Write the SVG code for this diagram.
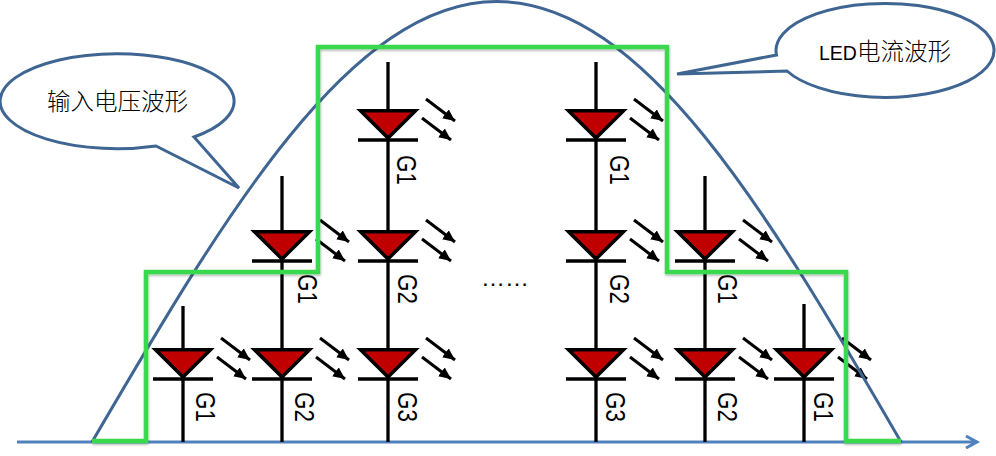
<svg xmlns="http://www.w3.org/2000/svg" width="996" height="456" viewBox="0 0 996 456">
<style>
text{fill:#000}
.w{stroke:#000;stroke-width:3.300;fill:none}
.d{fill:#c00000;stroke:#000;stroke-width:3.500}
.a{stroke:#000;stroke-width:3;fill:none;marker-end:url(#ah)}
.g{font:28px "Liberation Sans",Arial,sans-serif}
.b{fill:#fff;stroke:#3f6592;stroke-width:3}
.c{font:23.500px "Noto Sans CJK SC",sans-serif;font-weight:300}
.l{font:19.500px "Liberation Sans",sans-serif}
</style>
<defs>
<marker id="ah" markerUnits="userSpaceOnUse" markerWidth="14" markerHeight="12" refX="12" refY="5.500" orient="auto"><path d="M0 0L12 5.500L0 11z" fill="#000"/></marker>
<filter id="sh" x="-5%" y="-5%" width="110%" height="110%"><feDropShadow dx="0.500" dy="1.500" stdDeviation="1" flood-color="#000" flood-opacity=".3"/></filter>
<g id="led"><path class="d" d="M-27.500 349.700H27.500L0 377z"/><path class="w" d="M-30 379H30"/></g>
<g id="arr"><path class="a" d="M38 338L67 360"/><path class="a" d="M34 357L63 379"/></g>
</defs>
<rect width="996" height="456" fill="#fff"/>
<g id="connectors">
<path d="M17 442H976M966 436L977 442L966 448" fill="none" stroke="#4f81bd" stroke-width="3"/>
<path class="w" d="M183 306V442M282 176V442M388 62V442M596 62V442M705 176V442M804 304V442"/>
</g>
<g id="col-183"><use href="#led" x="183"/><use href="#arr" x="183"/><text class="g" transform="translate(196 392) rotate(90) scale(.8 1)">G1</text></g>
<g id="col-282">
<use href="#led" x="282"/><use href="#arr" x="282"/><text class="g" transform="translate(295 392) rotate(90) scale(.8 1)">G2</text>
<use href="#led" x="282" y="-118"/><use href="#arr" x="282" y="-118"/><text class="g" transform="translate(298 274) rotate(90) scale(.8 1)">G1</text></g>
<g id="col-388">
<use href="#led" x="388"/><use href="#arr" x="388"/><text class="g" transform="translate(398 392) rotate(90) scale(.8 1)">G3</text>
<use href="#led" x="388" y="-118"/><use href="#arr" x="388" y="-118"/><text class="g" transform="translate(398 274) rotate(90) scale(.8 1)">G2</text>
<use href="#led" x="388" y="-239"/><use href="#arr" x="388" y="-239"/><text class="g" transform="translate(397 155) rotate(90) scale(.8 1)">G1</text></g>
<g id="col-596">
<use href="#led" x="596"/><use href="#arr" x="596"/><text class="g" transform="translate(606 392) rotate(90) scale(.8 1)">G3</text>
<use href="#led" x="596" y="-118"/><use href="#arr" x="596" y="-118"/><text class="g" transform="translate(610 274) rotate(90) scale(.8 1)">G2</text>
<use href="#led" x="596" y="-239"/><use href="#arr" x="596" y="-239"/><text class="g" transform="translate(610 155) rotate(90) scale(.8 1)">G1</text></g>
<g id="col-705">
<use href="#led" x="705"/><use href="#arr" x="705"/><text class="g" transform="translate(718 392) rotate(90) scale(.8 1)">G2</text>
<use href="#led" x="705" y="-118"/><use href="#arr" x="705" y="-118"/><text class="g" transform="translate(718 274) rotate(90) scale(.8 1)">G1</text></g>
<g id="col-804"><use href="#led" x="804"/><use href="#arr" x="804"/><text class="g" transform="translate(814 392) rotate(90) scale(.8 1)">G1</text></g>
<text id="dots" x="481" y="286" font-family="Liberation Sans,sans-serif" font-size="24">……</text>
<g id="input-wave"><path d="M92 442C224 216 350 1.500 497 1.500C644 1.500 770 216 901 442" fill="none" stroke="#3f6592" stroke-width="3"/></g>
<g id="led-wave"><path d="M92 441H146V272H318V47H667V272H846V441H901" fill="none" stroke="#38d94e" stroke-width="4.500" filter="url(#sh)"/></g>
<g id="bubble-input"><path class="b" d="M156 146A117 47.500 0 1 1 194 137L239 188z"/><text class="c" x="47" y="110">输入电压波形</text></g>
<g id="bubble-led"><path class="b" d="M776.500 55A109 47 0 1 1 787 71L677 74z"/><text x="819" y="60"><tspan class="l">LED</tspan><tspan class="c" x="857">电流波形</tspan></text></g>
</svg>
